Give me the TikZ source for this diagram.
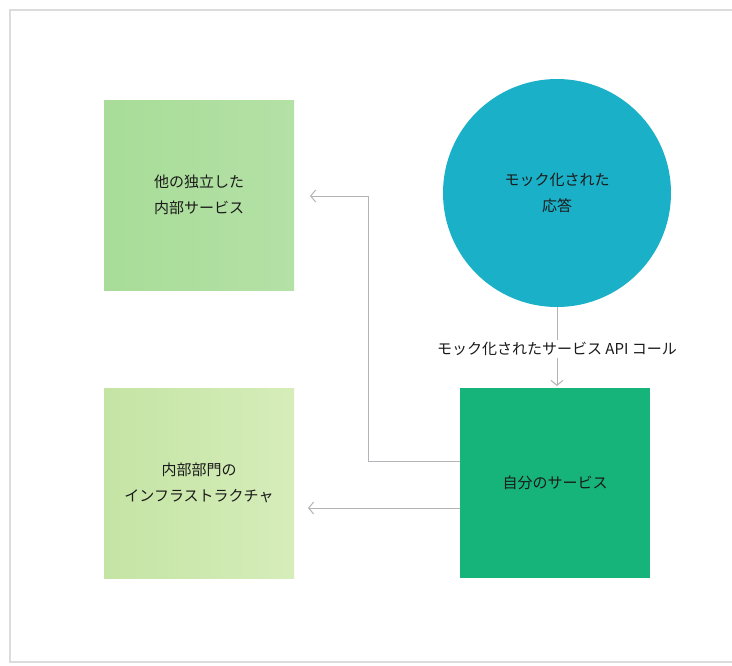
\documentclass[tikz,border=0pt]{standalone}
\usepackage{fontspec}
\newfontfamily\cjk{Noto Sans CJK JP}
\usetikzlibrary{arrows.meta}
\definecolor{boxA}{HTML}{A8DC98}
\definecolor{boxAb}{HTML}{B4E1A6}
\definecolor{boxB}{HTML}{C4E4A4}
\definecolor{boxBb}{HTML}{D6EDBA}
\definecolor{mine}{HTML}{16B37A}
\definecolor{mock}{HTML}{1AB0C8}
\definecolor{conn}{HTML}{B4B4B8}
\definecolor{txt}{HTML}{1A1A1A}
\definecolor{frame}{HTML}{DCDCDC}
\tikzset{
  lbl/.style={font=\cjk\fontsize{15}{26}\selectfont, text=txt, align=center},
  sq/.style={minimum width=190pt, minimum height=190pt, inner sep=0pt, draw=none, lbl},
  conline/.style={draw=conn, line width=1pt, -{Straight Barb[length=5pt,width=12pt,line width=1pt]}},
}
\begin{document}
\begin{tikzpicture}[x=1pt,y=-1pt]
\useasboundingbox (0,0) rectangle (732,665);
\fill[white] (0,0) rectangle (732,665);
\draw[frame, line width=1.2pt] (732,10) -- (10,10) -- (10,662) -- (732,662);
\node[sq, left color=boxA, right color=boxAb] (other) at (199,195) {他の独立した\\内部サービス};
\node[sq, left color=boxB, right color=boxBb] (infra) at (199,483) {内部部門の\\インフラストラクチャ};
\node[sq, fill=mine] (mysvc) at (555,483) {自分のサービス};
\node[circle, fill=mock, minimum size=228pt, inner sep=0pt, lbl] (mocked) at (557,193) {モック化された\\応答};
\coordinate (tipA) at (310,196);
\coordinate (tipB) at (308,508);
\coordinate (tipC) at (557,386);
\path[conline] (mocked.south) -- node[lbl, fill=white, inner sep=2pt, pos=0.53] (callLbl) {モック化されたサービス API コール} (tipC);
\path[conline] (mysvc.west |- 0,461) -| (368,196) -- (tipA);
\path[conline] (mysvc.west |- 0,508) -- (tipB);
\end{tikzpicture}
\end{document}
